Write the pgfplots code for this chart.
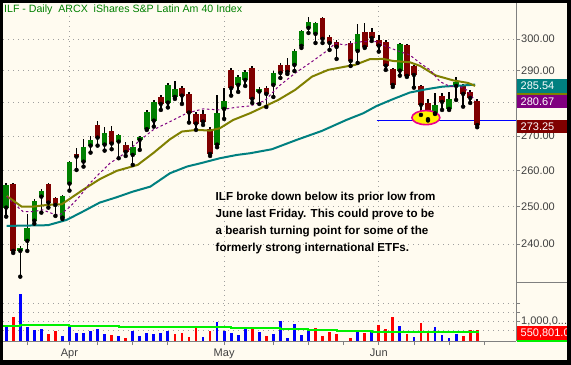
\documentclass[border=0pt]{standalone}
\usepackage{fontspec}
\setmainfont{Liberation Sans}
\usepackage{pgfplots}
\pgfplotsset{compat=1.18}
\usepackage{pgfplotstable}
\definecolor{cream}{HTML}{FFFBF0}
\definecolor{cgreen}{HTML}{008000}
\definecolor{cred}{HTML}{800000}
\definecolor{olivec}{HTML}{808000}
\definecolor{tealc}{HTML}{008080}
\definecolor{purpc}{HTML}{800080}
\definecolor{gridgray}{HTML}{A0A0A0}
\definecolor{labgray}{HTML}{404040}
\definecolor{vblue}{HTML}{0000FF}
\definecolor{vred}{HTML}{FF0000}
\definecolor{vgreen}{HTML}{00F000}
\newcommand{\vollab}{1,000,0.{}.{}.}

% up candles: index open high low close
\pgfplotstableread{
i o h l c
0 249.75 256.55 247.31 255.99
2 238.25 239.63 231.67 239.10
3 240.86 247.96 238.25 244.37
4 246.23 252.12 245.44 251.66
5 252.75 254.79 248.39 254.41
8 247.04 253.22 246.69 252.94
9 256.35 262.77 254.41 262.49
11 262.57 269.14 261.15 266.81
12 267.19 270.02 265.16 268.85
14 267.48 272.69 265.74 271.00
16 268.35 270.60 263.54 270.31
18 264.49 268.56 261.63 266.90
19 268.85 270.02 265.94 269.73
20 272.00 277.78 271.80 277.18
21 274.56 280.82 272.77 280.21
23 280.00 286.06 278.51 285.44
24 281.74 286.69 281.13 284.20
30 267.48 282.35 266.72 276.88
31 278.08 284.51 275.07 280.52
33 285.44 288.56 283.28 287.94
34 287.00 290.14 285.13 289.51
36 283.38 284.82 279.60 284.20
38 285.44 289.82 281.74 289.20
41 291.72 296.85 289.82 296.20
42 297.82 303.05 297.17 302.72
43 303.71 307.37 302.06 305.70
44 301.74 305.70 298.79 305.37
50 296.20 305.04 292.36 301.74
56 289.92 298.79 288.35 298.47
61 276.78 282.97 276.57 279.30
63 278.08 283.28 277.78 281.13
64 285.13 287.94 280.82 286.38
}\upc

% down candles: index open high low close
\pgfplotstableread{
i o h l c
1 256.27 256.55 237.73 238.25
6 256.27 256.64 249.75 251.11
7 252.39 252.67 247.50 250.48
10 264.78 266.61 260.21 264.00
13 273.28 274.47 267.19 269.52
15 271.50 272.98 266.14 267.78
17 267.39 268.27 264.20 265.36
22 281.74 282.35 277.78 279.60
25 284.51 285.13 279.60 282.14
26 282.66 283.28 273.97 276.97
27 276.57 277.18 271.80 273.67
28 276.57 277.78 273.28 274.26
29 272.09 272.69 264.20 264.78
32 290.14 290.77 282.14 284.42
35 290.77 291.41 279.91 281.13
37 284.51 285.13 278.69 282.66
39 291.72 292.36 287.62 289.20
40 291.72 293.96 288.88 289.51
45 307.04 307.37 298.79 300.10
46 300.75 301.41 296.53 298.79
47 299.12 299.77 293.64 297.50
49 298.79 299.45 291.41 292.99
51 302.39 305.37 297.17 297.50
52 302.39 303.71 299.45 300.42
53 299.77 301.41 295.97 297.92
54 299.02 299.77 290.14 291.52
55 290.46 290.77 284.82 285.44
57 298.14 298.47 287.94 288.25
58 291.41 291.72 284.60 288.56
59 285.13 285.44 276.27 279.30
60 279.91 281.13 274.62 274.98
62 282.05 282.97 277.78 280.21
65 285.13 285.75 278.78 282.66
66 283.28 283.89 279.91 281.43
67 280.52 281.13 272.60 273.25
}\downc

% volume (millions), blue bars
\pgfplotstableread{
i v
0 0.80
2 2.35
3 0.70
4 0.55
5 0.60
8 0.25
9 0.77
10 0.40
11 0.40
12 0.50
13 0.60
14 0.35
16 0.25
18 0.50
19 0.25
20 0.40
21 0.35
22 0.40
23 0.50
28 0.20
30 0.95
31 0.50
32 0.40
33 0.30
34 0.60
36 0.45
38 0.35
39 1.00
40 0.15
41 0.85
42 0.30
43 0.55
50 0.45
52 0.50
56 0.75
58 0.20
61 0.70
62 0.30
63 0.15
64 0.35
}\volb

% volume (millions), red bars
\pgfplotstableread{
i v
1 1.22
6 0.35
7 0.50
15 0.30
17 0.15
24 0.35
25 0.40
26 0.20
27 0.70
29 0.50
35 0.70
37 0.25
44 0.65
45 0.25
46 0.45
47 0.35
49 0.15
51 0.40
53 0.80
54 0.60
55 1.20
57 0.35
59 0.90
60 0.45
65 0.25
66 0.55
67 0.5508
}\volr

\begin{document}
\begin{tikzpicture}
\useasboundingbox (0,0) rectangle (571bp,365bp);
\fill[black] (0,0) rectangle (571bp,365bp);
\fill[cream] (3bp,5bp) rectangle (567bp,362bp);

% ---------------- price panel ----------------
\begin{axis}[
  at={(3bp,83bp)}, anchor=south west,
  width=513bp, height=279bp, scale only axis,
  xmin=-0.455, xmax=72.52,
  ymode=log, ymin=230.34, ymax=312.09,
  separate axis lines,
  axis x line*=bottom, axis y line*=right,
  x axis line style={draw=none},
  y axis line style={draw=gray, line width=0.8bp},
  xtick={9,31,53}, xticklabels={}, x tick style={draw=none},
  ytick={240,250,260,270,280,290,300},
  yticklabels={240.00,250.00,260.00,270.00,280.00,290.00,300.00},
  yminorticks=false,
  tick align=outside, major tick length=4bp,
  y tick style={draw=gray, line width=0.8bp},
  yticklabel style={font=\fontsize{11bp}{13bp}\selectfont, text=labgray, anchor=west, inner sep=0pt, xshift=1bp},
  xmajorgrids, ymajorgrids,
  major grid style={draw=gridgray, line width=0.9bp, dash pattern=on 1bp off 4bp},
]
% highlight ellipse
\addplot[only marks, mark=*, mark size=7bp, mark options={xscale=2, fill=yellow, draw=magenta, line width=1.6bp}] coordinates {(59.7,275.46)};
% support line
\addplot[vblue, line width=1bp] coordinates {(52.7,274.7) (72.6,274.7)};

% wicks
\addplot[only marks, mark=none, error bars/.cd, y dir=plus, y explicit, error mark=none,
  error bar style={draw=black, line width=1.5bp}]
  table[x=i, y=l, y error plus expr=\thisrow{h}-\thisrow{l}] {\upc};
\addplot[only marks, mark=none, error bars/.cd, y dir=plus, y explicit, error mark=none,
  error bar style={draw=black, line width=1.5bp}]
  table[x=i, y=l, y error plus expr=\thisrow{h}-\thisrow{l}] {\downc};
% bodies
\addplot[only marks, mark=none, error bars/.cd, y dir=plus, y explicit, error mark=none,
  error bar style={draw=cgreen, line width=5.6bp}]
  table[x=i, y=o, y error plus expr=\thisrow{c}-\thisrow{o}] {\upc};
\addplot[only marks, mark=none, error bars/.cd, y dir=plus, y explicit, error mark=none,
  error bar style={draw=cred, line width=5.6bp}]
  table[x=i, y=c, y error plus expr=\thisrow{o}-\thisrow{c}] {\downc};

% 50-day MA (teal)
\addplot[tealc, line width=2bp] coordinates {
(0.07,244.82) (5.95,245.01) (8.6,246.42) (10.9,248.67) (13.3,251.11) (15.7,252.58)
(18.0,254.13) (20.5,255.52) (23.3,259.27) (25.7,261.15) (28.0,262.29) (30.4,263.54)
(32.8,264.49) (34.7,264.98) (37.8,266.14) (41.3,268.85) (44.9,271.50) (48.4,274.77)
(50.8,276.79) (52.7,278.99) (55.0,281.04) (57.4,283.07) (59.8,284.11) (62.1,284.91)
(64.5,285.20) (66.7,285.54)};
% 20-day MA (olive)
\addplot[olivec, line width=2bp] coordinates {
(0.07,252.94) (2.2,250.02) (3.8,250.02) (5.8,250.48) (7.9,250.67) (10.9,254.60)
(13.3,257.59) (15.7,259.93) (18.7,261.63) (20.9,264.99) (23.3,269.05) (25.0,271.31)
(27.1,271.80) (29.0,271.60) (30.4,272.31) (32.3,274.77) (34.7,276.79) (38.7,280.82)
(41.1,283.89) (43.5,288.03) (45.8,290.14) (48.2,291.19) (49.6,291.72) (51.7,293.54)
(53.6,293.64) (55.0,292.99) (57.4,292.58) (58.9,291.41) (61.1,288.40) (63.6,286.85)
(65.7,286.06) (66.7,285.13)};
% 10-day MA (purple dashed)
\addplot[purpc, line width=1bp, dash pattern=on 2.5bp off 2.5bp] coordinates {
(0.07,252.75) (1.0,250.95) (2.4,248.67) (3.8,248.67) (5.2,249.12) (6.7,248.04)
(7.65,247.77) (9.1,250.02) (10.5,252.94) (11.9,256.46) (13.3,259.27) (14.8,262.20)
(16.2,264.00) (18.0,266.90) (19.0,268.70) (20.9,271.80) (23.3,274.26) (25.7,276.79)
(28.0,278.08) (30.4,277.78) (32.8,278.60) (34.7,278.99) (36.8,280.61) (38.7,284.91)
(41.1,289.11) (43.5,292.77) (45.8,296.53) (46.8,298.69) (48.2,298.14) (50.6,299.22)
(52.7,299.22) (54.1,297.60) (56.0,295.99) (57.4,294.92) (58.9,292.26) (60.3,290.14)
(61.7,286.49) (63.1,284.97) (64.5,284.97) (65.5,283.89) (66.7,280.67)};
\end{axis}

% ---------------- volume panel ----------------
\begin{axis}[
  at={(3bp,24bp)}, anchor=south west,
  width=513bp, height=59bp, scale only axis,
  xmin=-0.455, xmax=72.52,
  ymin=0, ymax=2.95,
  separate axis lines,
  axis x line*=bottom, axis y line*=right,
  x axis line style={draw=gray, line width=0.8bp},
  y axis line style={draw=gray, line width=0.8bp},
  xtick={9,31,53}, xticklabels={Apr,May,Jun},
  minor xtick={3,13,18,23,38,43,48,58,63,68},
  ytick={0.55,1,1.45,1.9},
  yticklabels={{},\vollab,{},{}},
  tick align=outside, major tick length=4bp, minor tick length=4bp,
  tick style={draw=gray, line width=0.8bp},
  ticklabel style={font=\fontsize{11bp}{13bp}\selectfont, text=labgray},
  yticklabel style={anchor=west, inner sep=0pt, xshift=1bp},
  xmajorgrids, ymajorgrids,
  major grid style={draw=gridgray, line width=0.9bp, dash pattern=on 1bp off 4bp},
]
\addplot[ycomb, draw=vblue, line width=2.8bp, mark=none] table[x=i, y=v] {\volb};
\addplot[ycomb, draw=vred, line width=2.8bp, mark=none] table[x=i, y=v] {\volr};
\addplot[const plot, draw=vgreen, line width=2bp] coordinates {
(-0.45,0.765) (2,0.825) (9,0.765) (16,0.715) (32,0.665) (39,0.615) (43,0.565) (47,0.515) (52,0.465) (67.2,0.465)};
\end{axis}

% ---------------- right-hand value boxes ----------------
\draw[gray, line width=0.8bp] (516bp,83bp) -- (567bp,83bp);
\fill[olivec] (516.5bp,270bp) rectangle (567bp,284bp);
\fill[tealc] (516.5bp,272bp) rectangle (567bp,286bp);
\node[anchor=west, inner sep=0pt, text=white, font=\fontsize{11bp}{13bp}\selectfont] at (520.5bp,279bp) {285.54};
\fill[purpc] (516.5bp,257bp) rectangle (567bp,270bp);
\node[anchor=west, inner sep=0pt, text=white, font=\fontsize{11bp}{13bp}\selectfont] at (520.5bp,263.5bp) {280.67};
\fill[cred] (516.5bp,232bp) rectangle (567bp,245bp);
\node[anchor=west, inner sep=0pt, text=white, font=\fontsize{11bp}{13bp}\selectfont] at (520.5bp,238.5bp) {273.25};
\fill[vred] (516.5bp,25bp) rectangle (567bp,39bp);
\node[anchor=west, inner sep=0pt, text=white, font=\fontsize{11bp}{13bp}\selectfont] at (520.5bp,32bp) {550,801.0};
\draw[vgreen, line width=2bp] (516.5bp,24bp) -- (567bp,24bp);

% title
\node[anchor=north west, inner sep=0pt, text=cgreen, font=\fontsize{10.6bp}{13bp}\selectfont] at (4bp,360bp) {ILF - Daily\ \ ARCX\ \ iShares S\&P Latin Am 40 Index};

% annotation
\node[anchor=north west, inner sep=0pt, align=left, font=\bfseries\fontsize{11.6bp}{17bp}\selectfont] at (215.5bp,173bp)
{ILF broke down below its prior low from\\June last Friday. This could prove to be\\a bearish turning point for some of the\\formerly strong international ETFs.};

% right border on top
\fill[black] (567bp,0) rectangle (571bp,365bp);
\end{tikzpicture}
\end{document}
